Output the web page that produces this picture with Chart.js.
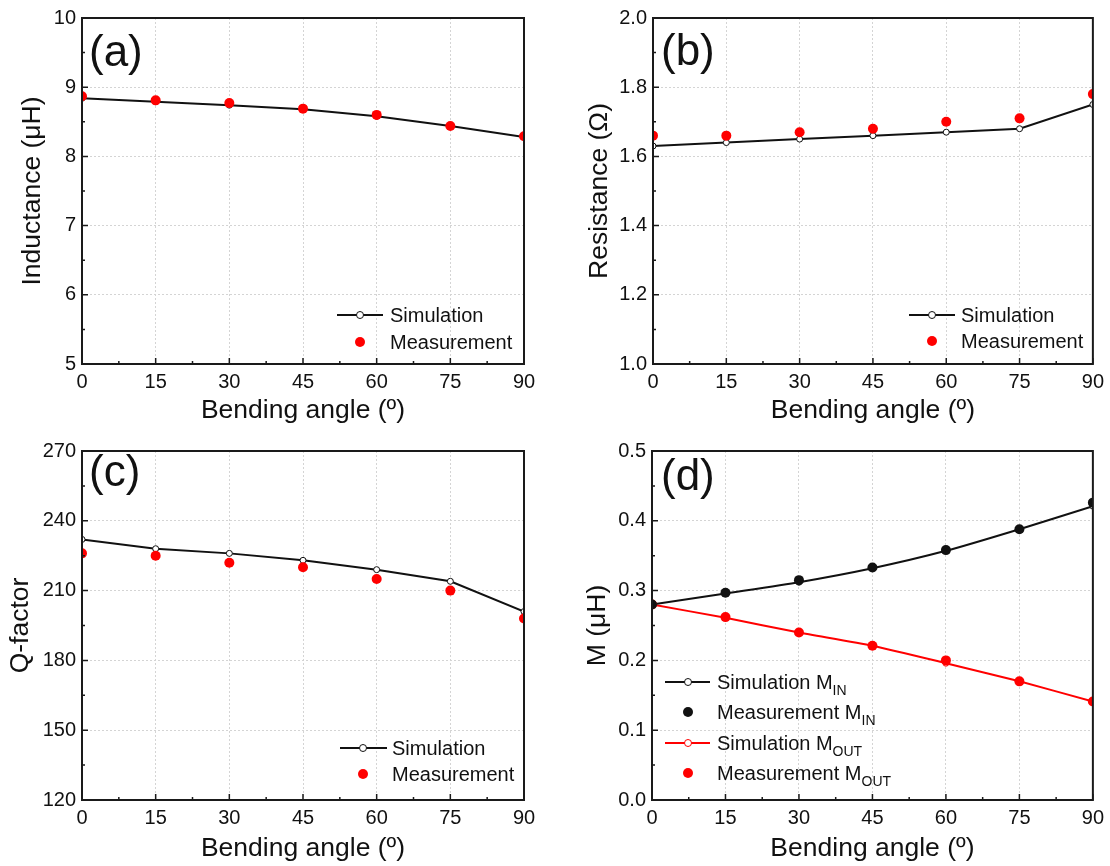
<!DOCTYPE html>
<html>
<head>
<meta charset="utf-8">
<script src="https://cdn.jsdelivr.net/npm/chart.js@4.4.0/dist/chart.umd.min.js"></script>
<style>
  body { margin: 0; background: #fff; }
  #wrap { position: relative; width: 1110px; height: 866px; overflow: hidden;
          font-family: "Liberation Sans", Arial, sans-serif; color: #111; }
  canvas { position: absolute; }
  .tag { position: absolute; font-size: 44px; line-height: 44px; }
  .txt { position: absolute; font-size: 20px; line-height: 24px; white-space: nowrap; }
  .ln { position: absolute; height: 2px; }
  .mk { position: absolute; border-radius: 50%; box-sizing: border-box; }
  .sub { font-size: 14px; position: relative; top: 6px; }
</style>
</head>
<body>
<div id="wrap">
  <canvas id="chartA" width="555" height="433" style="left:0;top:0"></canvas>
  <canvas id="chartB" width="555" height="433" style="left:555px;top:0"></canvas>
  <canvas id="chartC" width="555" height="433" style="left:0;top:433px"></canvas>
  <canvas id="chartD" width="555" height="433" style="left:555px;top:433px"></canvas>

  <div class="tag" style="left:89px;top:29px">(a)</div>
  <div class="tag" style="left:661px;top:28px">(b)</div>
  <div class="tag" style="left:89px;top:449px">(c)</div>
  <div class="tag" style="left:661px;top:453px">(d)</div>

  <!-- legend (a) -->
  <div class="ln" style="left:337px;top:314px;width:46px;background:#111"></div>
  <div class="mk" style="left:356px;top:311px;width:8px;height:8px;background:#fff;border:1px solid #111"></div>
  <div class="txt" style="left:390px;top:303px">Simulation</div>
  <div class="mk" style="left:355px;top:337px;width:10px;height:10px;background:#ff0000"></div>
  <div class="txt" style="left:390px;top:330px">Measurement</div>

  <!-- legend (b) -->
  <div class="ln" style="left:909px;top:314px;width:46px;background:#111"></div>
  <div class="mk" style="left:928px;top:311px;width:8px;height:8px;background:#fff;border:1px solid #111"></div>
  <div class="txt" style="left:961px;top:303px">Simulation</div>
  <div class="mk" style="left:927px;top:336px;width:10px;height:10px;background:#ff0000"></div>
  <div class="txt" style="left:961px;top:329px">Measurement</div>

  <!-- legend (c) -->
  <div class="ln" style="left:340px;top:747px;width:47px;background:#111"></div>
  <div class="mk" style="left:359px;top:744px;width:8px;height:8px;background:#fff;border:1px solid #111"></div>
  <div class="txt" style="left:392px;top:736px">Simulation</div>
  <div class="mk" style="left:358px;top:769px;width:10px;height:10px;background:#ff0000"></div>
  <div class="txt" style="left:392px;top:762px">Measurement</div>

  <!-- legend (d) -->
  <div class="ln" style="left:665px;top:681px;width:45px;background:#111"></div>
  <div class="mk" style="left:684px;top:678px;width:8px;height:8px;background:#fff;border:1px solid #111"></div>
  <div class="txt" style="left:717px;top:670px">Simulation M<span class="sub">IN</span></div>
  <div class="mk" style="left:683px;top:707px;width:10px;height:10px;background:#111"></div>
  <div class="txt" style="left:717px;top:700px">Measurement M<span class="sub">IN</span></div>
  <div class="ln" style="left:665px;top:742px;width:45px;background:#ff0000"></div>
  <div class="mk" style="left:684px;top:739px;width:8px;height:8px;background:#fff;border:1px solid #ff0000"></div>
  <div class="txt" style="left:717px;top:731px">Simulation M<span class="sub">OUT</span></div>
  <div class="mk" style="left:683px;top:768px;width:10px;height:10px;background:#ff0000"></div>
  <div class="txt" style="left:717px;top:761px">Measurement M<span class="sub">OUT</span></div>
</div>

<script>
// bending angles (x) shared by all four panels
var angles = [0, 15, 30, 45, 60, 75, 90];

var inductanceSim  = [8.84, 8.79, 8.74, 8.68, 8.58, 8.44, 8.28];
var inductanceMeas = [8.87, 8.81, 8.77, 8.69, 8.60, 8.44, 8.29];

var resistanceSim  = [1.63, 1.64, 1.65, 1.66, 1.67, 1.68, 1.75];
var resistanceMeas = [1.66, 1.66, 1.67, 1.68, 1.70, 1.71, 1.78];

var qSim  = [232, 228, 226, 223, 219, 214, 201];
var qMeas = [226, 225, 222, 220, 215, 210, 198];

var mInSim   = [0.280, 0.296, 0.312, 0.332, 0.357, 0.388, 0.421];
var mInMeas  = [0.280, 0.297, 0.315, 0.333, 0.358, 0.388, 0.426];
var mOutSim  = [0.280, 0.261, 0.240, 0.221, 0.196, 0.170, 0.141];
var mOutMeas = [0.280, 0.262, 0.240, 0.221, 0.200, 0.170, 0.141];

var FONT = "'Liberation Sans', Arial, sans-serif";
var INK = "#111";

function pts(ys) {
  return angles.map(function(a, i) { return {x: a, y: ys[i]}; });
}

function simSet(ys, color, tension) {
  return {
    data: pts(ys), borderColor: color, borderWidth: 2,
    pointRadius: 3, pointBorderWidth: 1, pointBackgroundColor: "#fff",
    pointBorderColor: color, tension: tension || 0, order: 2
  };
}

function measSet(ys, color) {
  return {
    data: pts(ys), showLine: false, pointRadius: 5, pointBorderWidth: 0,
    pointBackgroundColor: color, borderColor: color, order: 1
  };
}

// closed frame + inward Origin-style tick marks
var framePlugin = {
  id: "frame",
  afterDraw: function(chart) {
    var a = chart.chartArea, ctx = chart.ctx;
    var xs = chart.scales.x, ys = chart.scales.y;
    ctx.save();
    ctx.strokeStyle = "#1a1a1a";
    ctx.lineWidth = 1.5;
    ctx.beginPath();
    var xt = xs.ticks, yt = ys.ticks, i, p;
    for (i = 0; i < xt.length; i++) {
      p = xs.getPixelForValue(xt[i].value);
      ctx.moveTo(p, a.bottom); ctx.lineTo(p, a.bottom - 6);
      if (i < xt.length - 1) {
        p = xs.getPixelForValue((xt[i].value + xt[i + 1].value) / 2);
        ctx.moveTo(p, a.bottom); ctx.lineTo(p, a.bottom - 3);
      }
    }
    for (i = 0; i < yt.length; i++) {
      p = ys.getPixelForValue(yt[i].value);
      ctx.moveTo(a.left, p); ctx.lineTo(a.left + 6, p);
      if (i < yt.length - 1) {
        p = ys.getPixelForValue((yt[i].value + yt[i + 1].value) / 2);
        ctx.moveTo(a.left, p); ctx.lineTo(a.left + 3, p);
      }
    }
    ctx.stroke();
    ctx.lineWidth = 2;
    ctx.strokeRect(a.left, a.top, a.right - a.left, a.bottom - a.top);
    ctx.restore();
  }
};

function makePanel(id, datasets, y, box) {
  return new Chart(document.getElementById(id), {
    type: "line",
    data: { datasets: datasets },
    plugins: [framePlugin],
    options: {
      responsive: false,
      animation: false,
      layout: { padding: box.pad },
      plugins: { legend: { display: false }, tooltip: { enabled: false } },
      scales: {
        x: {
          type: "linear", min: 0, max: 90,
          ticks: { stepSize: 15, padding: 6, color: INK, font: { family: FONT, size: 20 } },
          grid: { color: "#d4d4d4", lineWidth: 1, drawTicks: false },
          border: { display: false, dash: [2, 2] },
          title: { display: true, text: "Bending angle (º)", color: INK, padding: 0,
                   font: { family: FONT, size: 26.5 } },
          afterFit: function(s) { s.height = box.xh; }
        },
        y: {
          min: y.min, max: y.max,
          ticks: { stepSize: y.step, padding: 6, color: INK, font: { family: FONT, size: 20 },
                   callback: function(v) { return v.toFixed(y.dec); } },
          grid: { color: "#d4d4d4", lineWidth: 1, drawTicks: false },
          border: { display: false, dash: [2, 2] },
          title: { display: true, text: y.title, color: INK, padding: 0,
                   font: { family: FONT, size: 26.5 } },
          afterFit: function(s) { s.width = box.yw; }
        }
      }
    }
  });
}

makePanel("chartA",
  [measSet(inductanceMeas, "#ff0000"), simSet(inductanceSim, "#111")],
  { min: 5, max: 10, step: 1, dec: 0, title: "Inductance (μH)" },
  { pad: { left: 17, top: 17, right: 31, bottom: 6 }, yw: 65, xh: 63 });

makePanel("chartB",
  [measSet(resistanceMeas, "#ff0000"), simSet(resistanceSim, "#111")],
  { min: 1.0, max: 2.0, step: 0.2, dec: 1, title: "Resistance (Ω)" },
  { pad: { left: 29, top: 17, right: 14, bottom: 6 }, yw: 69, xh: 63 });

makePanel("chartC",
  [measSet(qMeas, "#ff0000"), simSet(qSim, "#111")],
  { min: 120, max: 270, step: 30, dec: 0, title: "Q-factor" },
  { pad: { left: 5, top: 12, right: 31, bottom: 1 }, yw: 77, xh: 65 });

makePanel("chartD",
  [measSet(mInMeas, "#111"), measSet(mOutMeas, "#ff0000"),
   simSet(mInSim, "#111", 0.2), simSet(mOutSim, "#ff0000", 0.2)],
  { min: 0, max: 0.5, step: 0.1, dec: 1, title: "M (μH)" },
  { pad: { left: 27, top: 12, right: 13, bottom: 1 }, yw: 70, xh: 65 });
</script>
</body>
</html>
